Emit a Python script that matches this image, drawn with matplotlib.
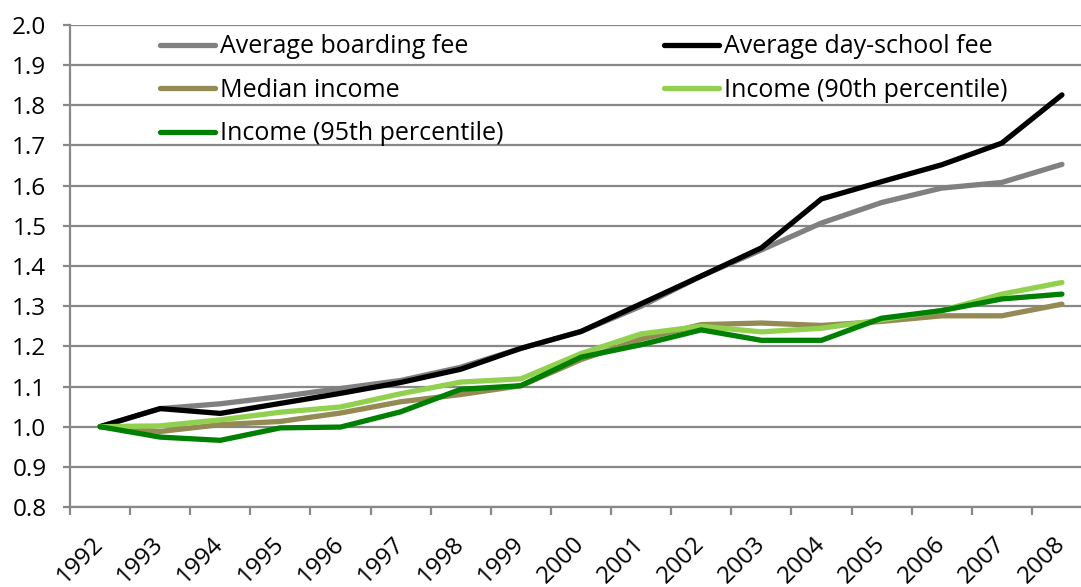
import matplotlib
matplotlib.use("Agg")
import matplotlib.pyplot as plt
from matplotlib.ticker import FixedLocator, FormatStrFormatter

plt.rcParams['font.family'] = ['Open Sans', 'DejaVu Sans']

years = ["1992", "1993", "1994", "1995", "1996", "1997", "1998", "1999", "2000",
         "2001", "2002", "2003", "2004", "2005", "2006", "2007", "2008"]

boarding_fee = [1.000, 1.045, 1.057, 1.075, 1.095, 1.115, 1.148, 1.195, 1.237,
                1.300, 1.375, 1.440, 1.507, 1.558, 1.594, 1.608, 1.653]
day_school_fee = [1.000, 1.045, 1.033, 1.058, 1.083, 1.110, 1.143, 1.195, 1.237,
                  1.306, 1.375, 1.445, 1.567, 1.610, 1.652, 1.706, 1.826]
median_income = [1.000, 0.988, 1.005, 1.013, 1.034, 1.062, 1.080, 1.102, 1.167,
                 1.218, 1.254, 1.258, 1.252, 1.262, 1.276, 1.276, 1.305]
income_p90 = [1.000, 1.002, 1.017, 1.036, 1.049, 1.082, 1.111, 1.119, 1.182,
              1.231, 1.250, 1.236, 1.245, 1.266, 1.289, 1.330, 1.359]
income_p95 = [1.000, 0.974, 0.966, 0.997, 0.999, 1.037, 1.093, 1.102, 1.173,
              1.204, 1.241, 1.215, 1.215, 1.270, 1.289, 1.318, 1.330]

labels = ["Average boarding fee", "Average day-school fee", "Median income",
          "Income (90th percentile)", "Income (95th percentile)"]
colors = ["#808080", "#000000", "#948A54", "#92D050", "#008000"]

fig = plt.figure(figsize=(10.81, 5.87), dpi=100)
ax = fig.add_axes([70/1081, (587-507)/587, 1022/1081, (507-25)/587])

x = list(range(len(years)))
series = [boarding_fee, day_school_fee, median_income, income_p90, income_p95]
handles = []
for s, lab, c in zip(series, labels, colors):
    h, = ax.plot(x, s, color=c, lw=3.8, label=lab, solid_capstyle='round',
                 solid_joinstyle='miter', zorder=3)
    handles.append(h)

ax.set_xlim(-0.5, len(years) - 0.5)
ax.set_ylim(0.8, 2.0)
ax.set_yticks([0.8 + 0.1*i for i in range(13)])
ax.yaxis.set_major_formatter(FormatStrFormatter('%.1f'))
ax.grid(axis='y', color='#888888', lw=1.6, zorder=0)
ax.set_axisbelow(True)

ax.set_xticks(x)
ax.set_xticklabels(years, rotation=45, ha='right', va='center', rotation_mode='anchor')
ax.xaxis.set_minor_locator(FixedLocator([i - 0.5 for i in range(len(years) + 1)]))
ax.tick_params(axis='x', which='major', length=0, pad=24, labelsize=17.5)
ax.tick_params(axis='x', which='minor', length=6, width=1.6, color='#888888')
ax.tick_params(axis='y', length=5, width=1.6, color='#888888', pad=12, labelsize=17.5)

for sp in ['top', 'right']:
    ax.spines[sp].set_visible(False)
for sp in ['left', 'bottom']:
    ax.spines[sp].set_color('#888888')
    ax.spines[sp].set_linewidth(1.6)

order = [0, 2, 4, 1, 3]
leg = ax.legend([handles[i] for i in order], [labels[i] for i in order],
                ncol=2, frameon=False, loc='upper left',
                bbox_to_anchor=(0.081, 0.996), fontsize=18,
                handlelength=2.2, handletextpad=0.2, columnspacing=6.4,
                labelspacing=0.74, borderaxespad=0.0, borderpad=0.3)

fig.savefig("out.png", dpi=100)
